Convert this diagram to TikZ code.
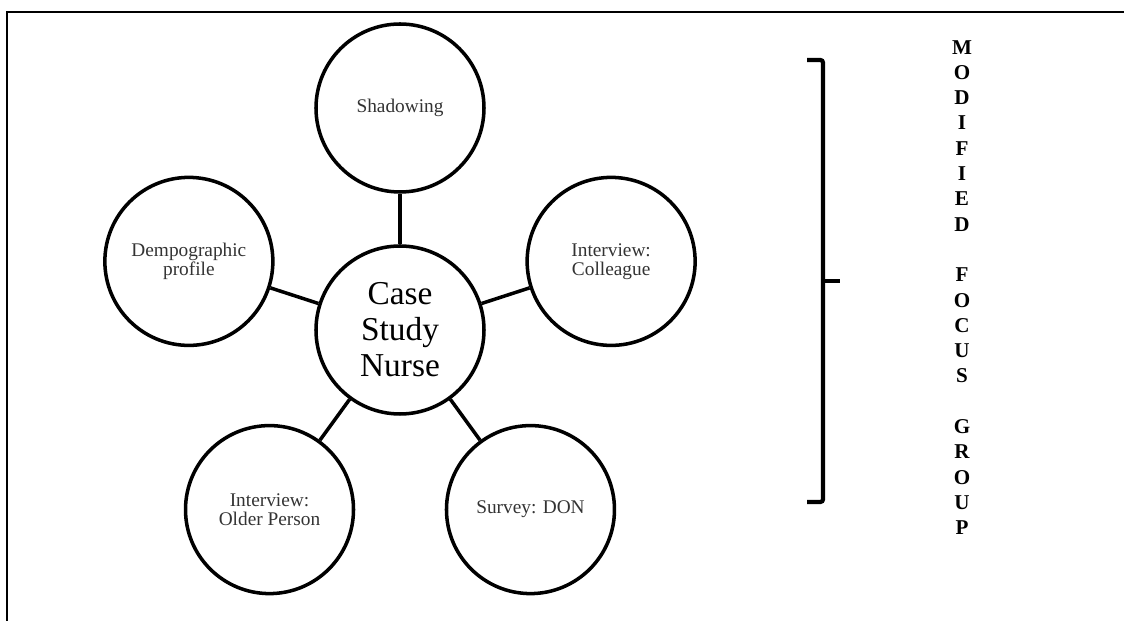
\documentclass[tikz,border=0pt]{standalone}
\usepackage{fontspec}
\setmainfont{Liberation Serif}
\usepackage{tikz}
\usetikzlibrary{arrows}

\begin{document}
\begin{tikzpicture}[line width=2pt,
  main node/.style={circle,draw,minimum size=3.36cm,inner sep=0pt,align=center,
    text=black!80,font=\fontsize{11}{11}\selectfont}]

  \useasboundingbox (-8,-5.82) rectangle (14.48,6.6);
  \draw[line width=0.8pt] (14.48,6.36) -- (-7.86,6.36) -- (-7.86,-5.82);

  \node[main node] [text=black,font=\fontsize{19}{20.5}\selectfont] (nurse) at (0,0) {Case\\Study\\Nurse};
  \node[main node] (shadow) at (90:4.44) {Shadowing};
  \node[main node] (demo) at (162:4.44) {Dempographic\\profile};
  \node[main node] (older) at (234:4.44) {Interview:\\Older Person};
  \node[main node] (don) at (306:4.44) {Survey: DON};
  \node[main node] (colleague) at (18:4.44) {Interview:\\Colleague};

  \path
    (nurse) edge (shadow)
    (nurse) edge (demo)
    (nurse) edge (older)
    (nurse) edge (don)
    (nurse) edge (colleague);

  \coordinate (top) at (8.14,5.4);
  \coordinate (bottom) at (8.14,-3.44);
  \coordinate (tick) at (8.8,0.98);
  \draw[line width=2.4pt,rounded corners=1.5pt] (top) -- (8.46,5.4) -- (8.46,-3.44) -- (bottom);
  \draw[line width=2.4pt] (8.46,0.98) -- (tick);

  \node[align=center,inner sep=0pt,font=\fontsize{12}{14.4}\selectfont\bfseries] (focus) at (11.24,0.85)
    {M\\O\\D\\I\\F\\I\\E\\D\\\mbox{}\\F\\O\\C\\U\\S\\\mbox{}\\G\\R\\O\\U\\P};
\end{tikzpicture}
\end{document}
